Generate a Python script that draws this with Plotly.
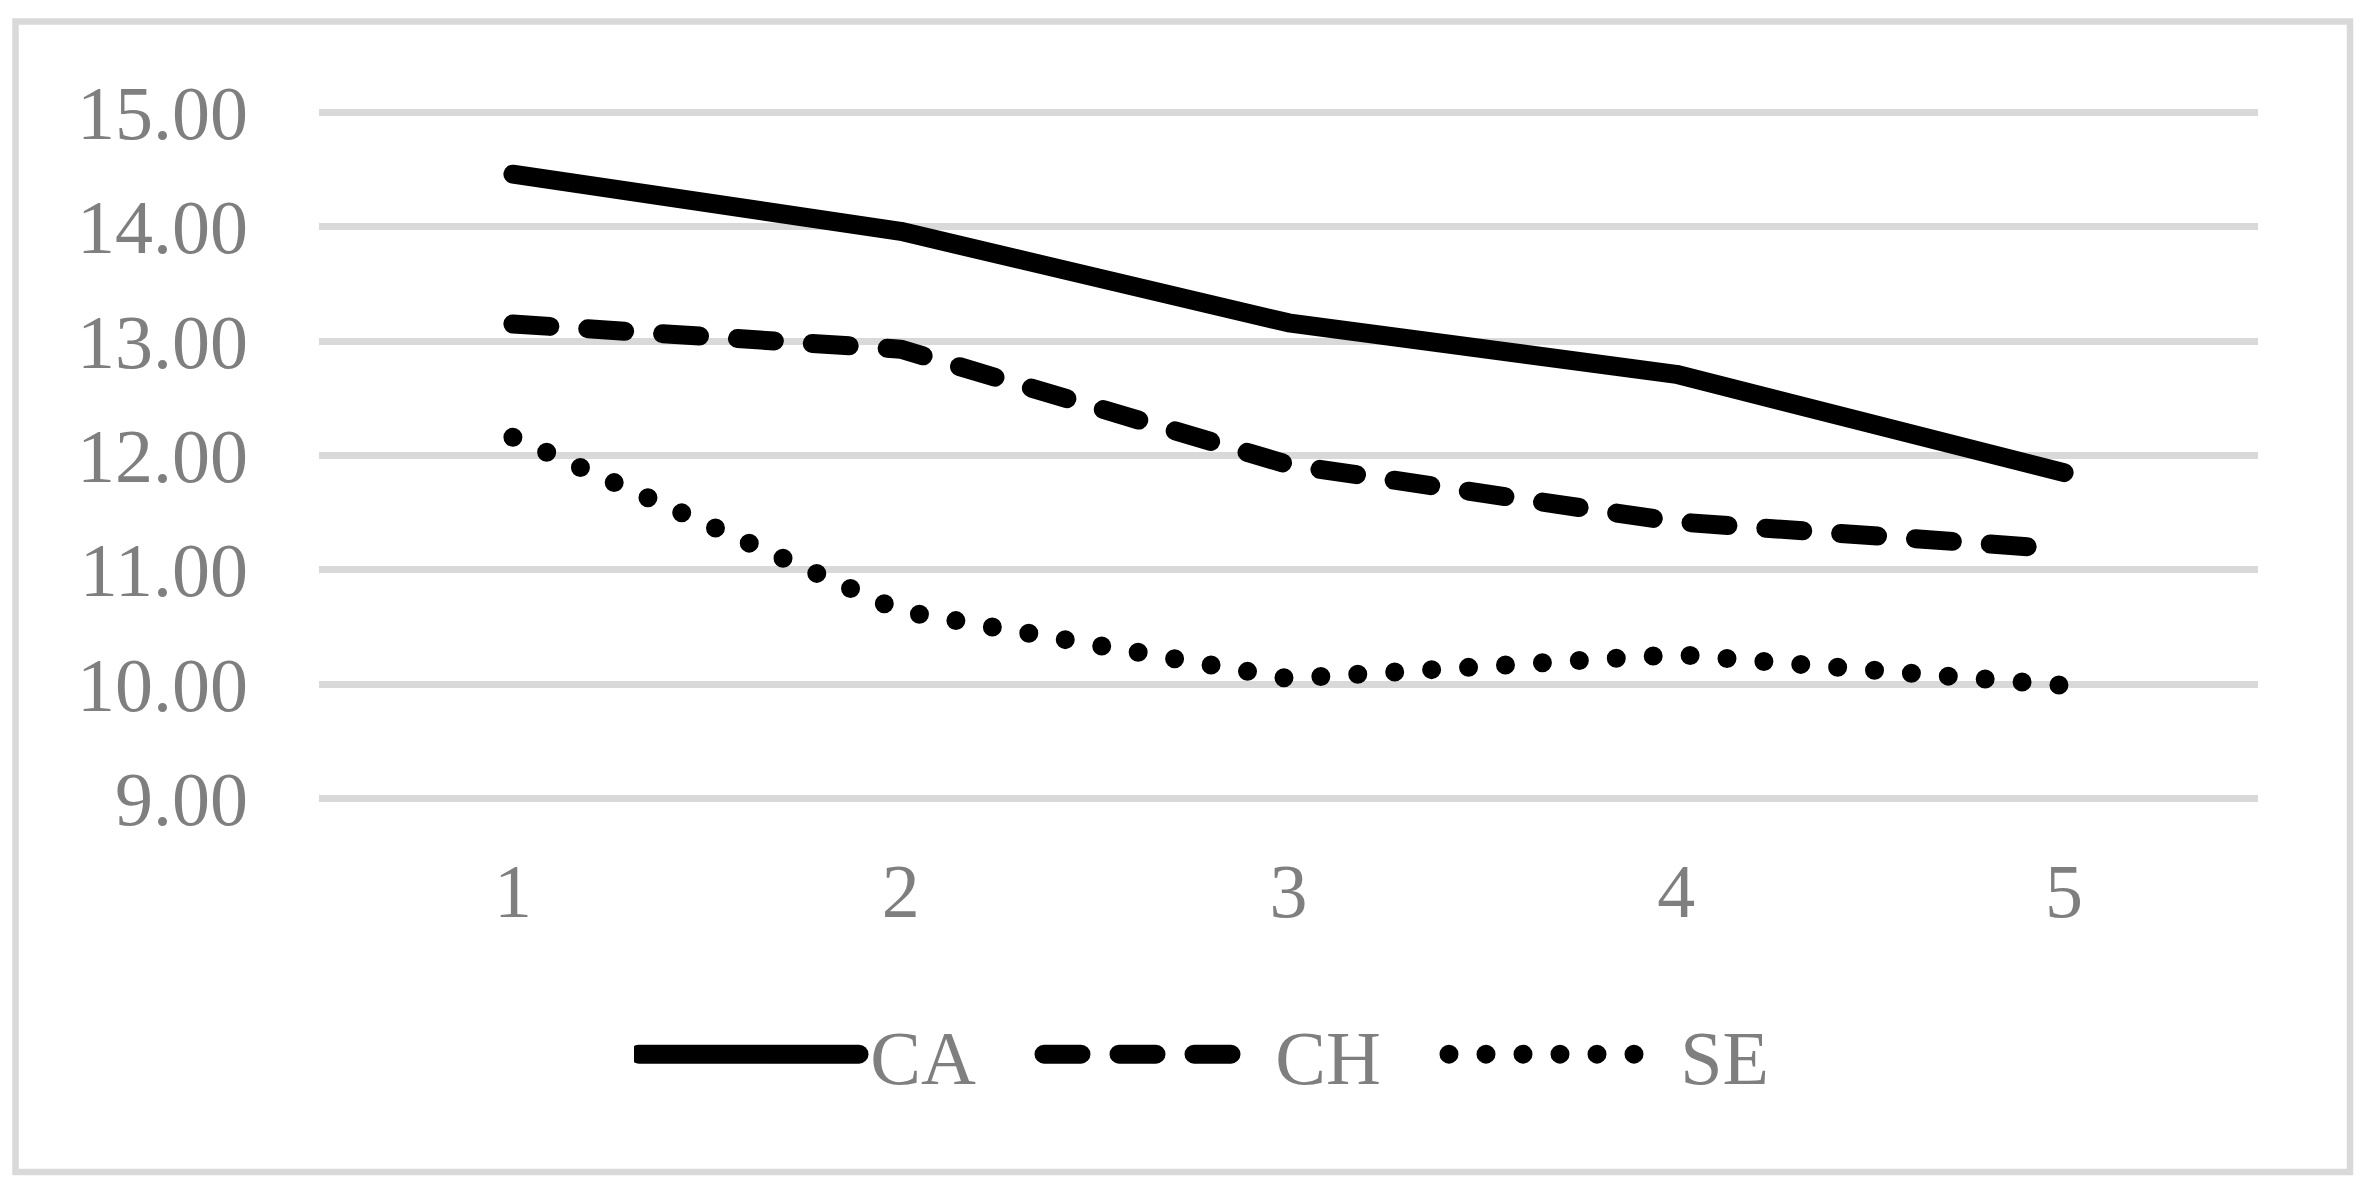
import plotly.graph_objects as go

categories = ["1", "2", "3", "4", "5"]
ca_values = [14.46, 13.96, 13.16, 12.71, 11.85]
ch_values = [13.15, 12.93, 11.92, 11.42, 11.18]
se_values = [12.16, 10.64, 10.05, 10.26, 9.99]
series_names = ["CA", "CH", "SE"]
y_ticks = [9, 10, 11, 12, 13, 14, 15]
y_tick_labels = ["9.00", "10.00", "11.00", "12.00", "13.00", "14.00", "15.00"]

W, H = 2373, 1198
# pixel geometry of the plot area (y=15 at 112px, y=9 at 799px)
L, R = 319, 2258
Y_TOP, Y_BOT = 112, 799
Y_MIN, Y_MAX = 9, 15
PAD = 0.03
ppu = (Y_BOT - Y_TOP) / (Y_MAX - Y_MIN)
T = Y_TOP - PAD * ppu
B = Y_BOT + PAD * ppu

FONT = "Liberation Serif"
GRAY = "#7f7f7f"
GRID = "#d9d9d9"
FS = 76

fig = go.Figure()
dashes = ["solid", "37px,38px", "0px,37px"]
for name, vals, dash in zip(series_names, [ca_values, ch_values, se_values], dashes):
    fig.add_trace(go.Scatter(x=categories, y=vals, name="\u200a" + name, mode="lines",
                             line=dict(color="black", width=19, dash=dash)))

def px_x(p):
    return (p - L) / (R - L)

def px_y(p):
    return (B - p) / (B - T)

fig.add_shape(type="rect", xref="paper", yref="paper",
              x0=px_x(15.5), x1=px_x(2350), y0=px_y(1173), y1=px_y(21),
              line=dict(color=GRID, width=6.5), layer="below")

fig.update_layout(
    width=W, height=H,
    margin=dict(l=L, r=W - R, t=T, b=H - B, autoexpand=False),
    paper_bgcolor="white", plot_bgcolor="white",
    font=dict(family=FONT, size=FS, color=GRAY),
    showlegend=True,
    legend=dict(orientation="h", x=px_x(634), xanchor="left", y=px_y(1055), yanchor="middle",
                itemwidth=220, entrywidth=170,
                font=dict(family=FONT, size=FS, color=GRAY),
                bgcolor="rgba(0,0,0,0)", tracegroupgap=0, itemclick=False),
    xaxis=dict(type="category", range=[-0.5, 4.5], showgrid=False, zeroline=False,
               showline=False, ticks="", ticklabelstandoff=38,
               tickfont=dict(family=FONT, size=FS, color=GRAY)),
    yaxis=dict(range=[Y_MIN - PAD, Y_MAX + PAD], tickvals=y_ticks, ticktext=y_tick_labels,
               showgrid=True, gridcolor=GRID, gridwidth=6.5, zeroline=False,
               showline=False, ticks="", ticklabelstandoff=70,
               tickfont=dict(family=FONT, size=FS, color=GRAY)),
)

post = """
var s=document.createElement('style');
s.innerHTML='body{margin:0 !important;} path.js-line{stroke-linecap:round !important;stroke-linejoin:round !important;} .legendlines path.js-line{stroke-width:19px !important;}';
document.head.appendChild(s);
"""
fig.write_html("out.html", post_script=post, config={"displayModeBar": False})
